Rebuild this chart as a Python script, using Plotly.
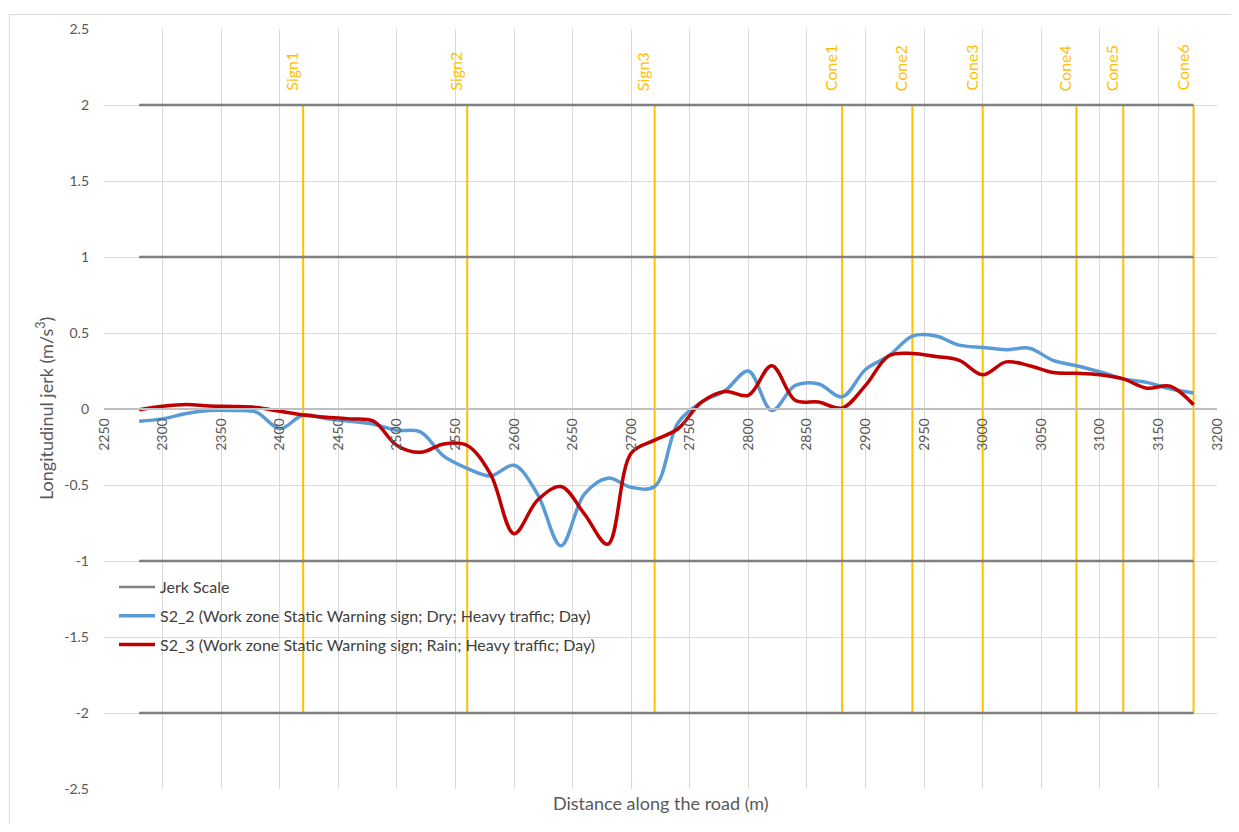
import plotly.graph_objects as go

# ---------------- data ----------------
distance = [2280, 2300, 2320, 2340, 2360, 2380, 2400, 2420, 2440, 2460,
            2480, 2500, 2520, 2540, 2560, 2580, 2600, 2620, 2640, 2660,
            2680, 2700, 2720, 2740, 2760, 2780, 2800, 2820, 2840, 2860,
            2880, 2900, 2920, 2940, 2960, 2980, 3000, 3020, 3040, 3060,
            3080, 3100, 3120, 3140, 3160, 3180]

s2_2 = [-0.08, -0.065, -0.03, -0.01, -0.01, -0.02, -0.13, -0.04, -0.065, -0.08,
        -0.10, -0.14, -0.15, -0.31, -0.39, -0.44, -0.37, -0.56, -0.90, -0.56,
        -0.455, -0.515, -0.51, -0.09, 0.045, 0.12, 0.25, -0.01, 0.155, 0.165,
        0.08, 0.26, 0.35, 0.48, 0.48, 0.42, 0.405, 0.39, 0.40, 0.32,
        0.285, 0.245, 0.198, 0.175, 0.133, 0.105]

s2_3 = [-0.005, 0.018, 0.03, 0.02, 0.017, 0.01, -0.015, -0.04, -0.055, -0.065,
        -0.08, -0.24, -0.285, -0.23, -0.24, -0.43, -0.82, -0.60, -0.51, -0.69,
        -0.89, -0.29, -0.205, -0.13, 0.045, 0.115, 0.09, 0.285, 0.057, 0.046,
        0.006, 0.155, 0.35, 0.365, 0.345, 0.32, 0.225, 0.31, 0.285, 0.24,
        0.235, 0.225, 0.198, 0.137, 0.15, 0.028]

jerk_levels = [2, 1, -1, -2]
jerk_start = 2280
jerk_end = 3180

marker_names = ["Sign1", "Sign2", "Sign3", "Cone1", "Cone2", "Cone3", "Cone4", "Cone5", "Cone6"]
marker_pos = [2420, 2560, 2720, 2880, 2940, 3000, 3080, 3120, 3180]
marker_low = -2
marker_high = 2

x_ticks = [2250, 2300, 2350, 2400, 2450, 2500, 2550, 2600, 2650, 2700,
           2750, 2800, 2850, 2900, 2950, 3000, 3050, 3100, 3150, 3200]
y_ticks = [-2.5, -2, -1.5, -1, -0.5, 0, 0.5, 1, 1.5, 2, 2.5]
y_tick_text = ["-2.5", "-2", "-1.5", "-1", "-0.5", "0", "0.5", "1", "1.5", "2", "2.5"]

series_names = ["Jerk Scale",
                "S2_2 (Work zone Static Warning sign; Dry; Heavy traffic; Day)",
                "S2_3 (Work zone Static Warning sign; Rain; Heavy traffic; Day)"]
x_title = "Distance along the road (m)"
y_title = "Longitudinul jerk (m/s<sup>3</sup>)"

# ---------------- styles ----------------
FONT = "Lato, 'Open Sans', sans-serif"
GRID = "#D9D9D9"
AXIS = "#BFBFBF"
TXT = "#595959"
YELLOW = "#FFC000"

fig = go.Figure()

# vertical marker lines
mx, my = [], []
for p in marker_pos:
    mx += [p, p, None]
    my += [marker_low, marker_high, None]
fig.add_trace(go.Scatter(x=mx, y=my, mode="lines", line=dict(color=YELLOW, width=2),
                         showlegend=False, hoverinfo="skip"))

# jerk scale lines
jx, jy = [], []
for lv in jerk_levels:
    jx += [jerk_start, jerk_end, None]
    jy += [lv, lv, None]
fig.add_trace(go.Scatter(x=jx, y=jy, mode="lines", name=series_names[0],
                         line=dict(color="#808080", width=2.5), legendgroup="a"))

fig.add_trace(go.Scatter(x=distance, y=s2_2, mode="lines", name=series_names[1],
                         line=dict(color="#5B9BD5", width=3.5, shape="spline", smoothing=1),
                         legendgroup="b"))
fig.add_trace(go.Scatter(x=distance, y=s2_3, mode="lines", name=series_names[2],
                         line=dict(color="#C00000", width=3.5, shape="spline", smoothing=1),
                         legendgroup="c"))

annotations = []
for name, p in zip(marker_names, marker_pos):
    annotations.append(dict(x=p, y=marker_high, xref="x", yref="y", text=name,
                            showarrow=False, textangle=-90, xanchor="center",
                            yanchor="bottom", xshift=-12, yshift=12,
                            font=dict(family=FONT, size=16, color=YELLOW)))
annotations.append(dict(x=0.5, y=-0.018, xref="paper", yref="paper", text=x_title,
                        showarrow=False, xanchor="center", yanchor="middle",
                        font=dict(family=FONT, size=18, color=TXT)))
annotations.append(dict(x=-0.053, y=0.5, xref="paper", yref="paper", text=y_title,
                        showarrow=False, textangle=-90, xanchor="center", yanchor="middle",
                        font=dict(family=FONT, size=18, color=TXT)))

fig.update_layout(
    width=1231, height=816,
    margin=dict(l=96, r=22, t=16, b=35),
    paper_bgcolor="white", plot_bgcolor="white",
    font=dict(family=FONT, size=14, color=TXT),
    showlegend=True,
    legend=dict(x=0.009, y=0.288, xanchor="left", yanchor="top",
                bgcolor="rgba(255,255,255,0)", font=dict(family=FONT, size=16, color="#404040"),
                traceorder="grouped", tracegroupgap=5, itemwidth=36),
    annotations=annotations,
    shapes=[dict(type="rect", xref="paper", yref="paper", x0=-0.085, x1=1.018,
                 y0=-0.08, y1=1.019, line=dict(color=GRID, width=1), layer="below")],
    xaxis=dict(range=[2250, 3200], tickvals=x_ticks, tickangle=-90,
               anchor="free", position=0.5,
               showgrid=True, gridcolor=GRID, gridwidth=1,
               showline=True, linecolor=AXIS, linewidth=1.5,
               zeroline=False, ticks="", ticklabelstandoff=3,
               tickfont=dict(family=FONT, size=14, color=TXT)),
    yaxis=dict(range=[-2.5, 2.5], tickvals=y_ticks, ticktext=y_tick_text,
               showgrid=True, gridcolor=GRID, gridwidth=1, zeroline=False,
               showline=False, ticks="", ticklabelstandoff=14,
               tickfont=dict(family=FONT, size=14, color=TXT)),
)

fig.write_html("out.html")
